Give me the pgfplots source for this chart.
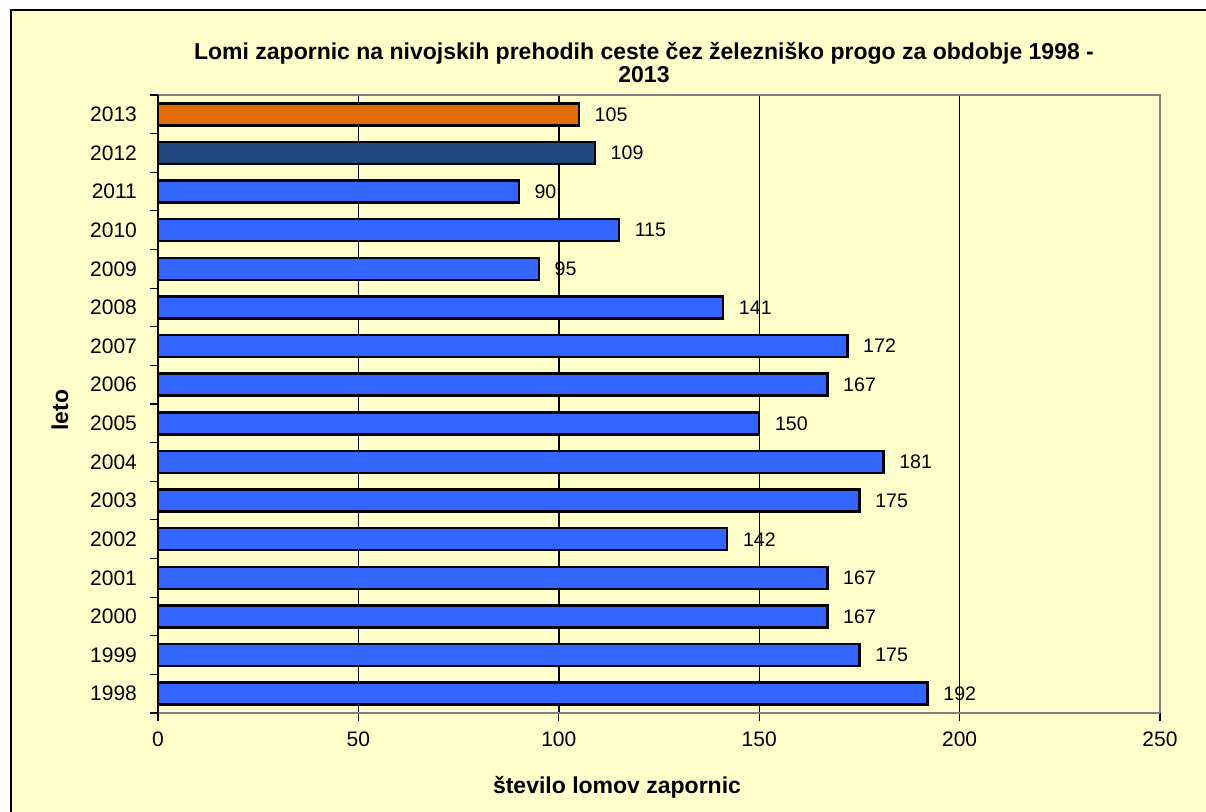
\documentclass[border=0pt]{standalone}
\usepackage{fontspec}
\setmainfont{Liberation Sans}
\usepackage{pgfplots}
\pgfplotsset{compat=1.18}
\definecolor{bg}{HTML}{FFFFCC}
\definecolor{barblue}{HTML}{3366FF}
\definecolor{bardark}{HTML}{1F497D}
\definecolor{barorange}{HTML}{E36C0A}
\begin{document}
\begin{tikzpicture}[x=1pt,y=1pt]
\useasboundingbox (0,0) rectangle (603,405.5);
\clip (0,0) rectangle (603,405.5);
\fill[white] (0,0) rectangle (603,405.5);
\fill[bg] (5.5,-10) rectangle (620,400.5);
\draw[black, line width=1pt] (5.5,-10) -- (5.5,400.5) -- (620,400.5);
\begin{axis}[at={(79pt,49pt)}, anchor=south west, scale only axis,
  width=501pt, height=309pt,
  xbar, bar width=11pt, bar shift=0pt,
  xmin=0, xmax=250, ymin=-0.5, ymax=15.5,
  xtick={0,50,100,150,200,250},
  ytick={0,...,15},
  yticklabels={1998,1999,2000,2001,2002,2003,2004,2005,2006,2007,2008,2009,2010,2011,2012,2013},
  minor ytick={-0.5,0.5,...,15.5},
  xtick pos=left, ytick pos=left,
  tick align=outside,
  major tick length=4pt, minor tick length=4pt,
  ytick style={draw=none},
  minor y tick style={draw=black, line width=0.6pt},
  x tick style={black, line width=0.6pt},
  xmajorgrids, major x grid style={black, line width=0.7pt},
  axis line style={draw=none},
  /pgf/number format/assume math mode=true,
  tick label style={font=\fontsize{10.5}{12}\selectfont},
  xticklabel style={yshift=-2pt},
  yticklabel style={xshift=-3pt},
  nodes near coords,
  every node near coord/.append style={font=\fontsize{9.8}{12}\selectfont, xshift=4pt, black},
  clip=false,
]
\addplot[fill=barblue, draw=black, line width=1.2pt] coordinates {
(192,0) (175,1) (167,2) (167,3) (142,4) (175,5) (181,6) (150,7)
(167,8) (172,9) (141,10) (95,11) (115,12) (90,13)};
\addplot[fill=bardark, draw=black, line width=1.2pt] coordinates {(109,14)};
\addplot[fill=barorange, draw=black, line width=1.2pt] coordinates {(105,15)};
\draw[gray, line width=0.9pt] (rel axis cs:0,1) -- (rel axis cs:1,1) -- (rel axis cs:1,0);
\draw[gray, line width=0.9pt] (rel axis cs:0,0) -- (rel axis cs:1,0);
\draw[black, line width=0.8pt] (rel axis cs:0,0) -- (rel axis cs:0,1);
\end{axis}
\node[font=\bfseries\fontsize{11.5}{11.5}\selectfont, align=center] at (322,374)
  {Lomi zapornic na nivojskih prehodih ceste čez železniško progo za obdobje 1998 -\\2013};
\node[font=\bfseries\fontsize{11.5}{12}\selectfont, rotate=90] at (30,200.5) {leto};
\node[font=\bfseries\fontsize{11.5}{12}\selectfont] at (308.5,12) {število lomov zapornic};
\end{tikzpicture}
\end{document}
